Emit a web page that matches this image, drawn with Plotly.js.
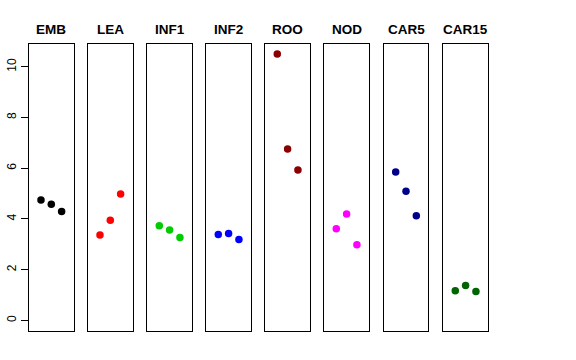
<!DOCTYPE html>
<html>
<head>
<meta charset="utf-8">
<script src="https://cdn.plot.ly/plotly-3.0.1.min.js"></script>
<style>html,body{margin:0;padding:0;background:#fff;}#chart{width:576px;height:360px;}</style>
</head>
<body>
<div id="chart"></div>
<script>
var panels = ["EMB", "LEA", "INF1", "INF2", "ROO", "NOD", "CAR5", "CAR15"];
var colors = ["#000000", "#FF0000", "#00CD00", "#0000FF", "#8B0000", "#FF00FF", "#00008B", "#006400"];
var positions = [1, 2, 3];
var EMB = [4.75, 4.58, 4.29];
var LEA = [3.37, 3.95, 4.98];
var INF1 = [3.73, 3.56, 3.27];
var INF2 = [3.39, 3.43, 3.19];
var ROO = [10.51, 6.76, 5.93];
var NOD = [3.61, 4.19, 2.98];
var CAR5 = [5.85, 5.09, 4.13];
var CAR15 = [1.17, 1.37, 1.14];
var yTicks = [0, 2, 4, 6, 8, 10];
var seriesValues = [EMB, LEA, INF1, INF2, ROO, NOD, CAR5, CAR15];

var W = 576, H = 360;
var lefts = [29, 88, 147.3, 206.3, 265.3, 324.3, 383.7, 443.3];
var panelW = 44.6;
var yDom = [1 - 331 / H, 1 - 43.5 / H];

var data = [];
var layout = {
  width: W, height: H,
  margin: {l: 0, r: 0, t: 0, b: 0},
  paper_bgcolor: "#fff", plot_bgcolor: "#fff",
  showlegend: false,
  annotations: []
};

for (var i = 0; i < panels.length; i++) {
  var sfx = i === 0 ? "" : String(i + 1);
  data.push({
    type: "scatter", mode: "markers",
    x: positions, y: seriesValues[i],
    xaxis: "x" + sfx, yaxis: "y" + sfx,
    marker: {color: colors[i], size: 7.5},
    hoverinfo: "skip"
  });
  var d0 = lefts[i] / W, d1 = (lefts[i] + panelW) / W;
  layout["xaxis" + sfx] = {
    domain: [d0, d1], range: [-0.16, 4.16], anchor: "y" + sfx,
    showgrid: false, zeroline: false, showticklabels: false, ticks: "",
    showline: true, mirror: true, linecolor: "#000", linewidth: 1
  };
  var ya = {
    domain: yDom, range: [-0.42, 10.92], anchor: "x" + sfx,
    showgrid: false, zeroline: false,
    showline: true, mirror: true, linecolor: "#000", linewidth: 1
  };
  if (i === 0) {
    ya.tickvals = yTicks;
    ya.ticktext = yTicks.map(String);
    ya.ticks = "outside";
    ya.ticklen = 7;
    ya.tickcolor = "#000";
    ya.tickwidth = 1;
    ya.tickangle = -90;
    ya.tickfont = {family: "Liberation Sans, Arial, sans-serif", size: 12, color: "#000"};
  } else {
    ya.matches = "y";
    ya.showticklabels = false;
    ya.ticks = "";
  }
  layout["yaxis" + sfx] = ya;
  layout.annotations.push({
    text: "<b>" + panels[i] + "</b>",
    xref: "paper", yref: "paper",
    x: (lefts[i] + panelW / 2) / W, y: 1 - 29.5 / H,
    xanchor: "center", yanchor: "middle", showarrow: false,
    font: {family: "Liberation Sans, Arial, sans-serif", size: 13.5, color: "#000"}
  });
}

Plotly.newPlot("chart", data, layout, {staticPlot: true, displayModeBar: false});
</script>
</body>
</html>
